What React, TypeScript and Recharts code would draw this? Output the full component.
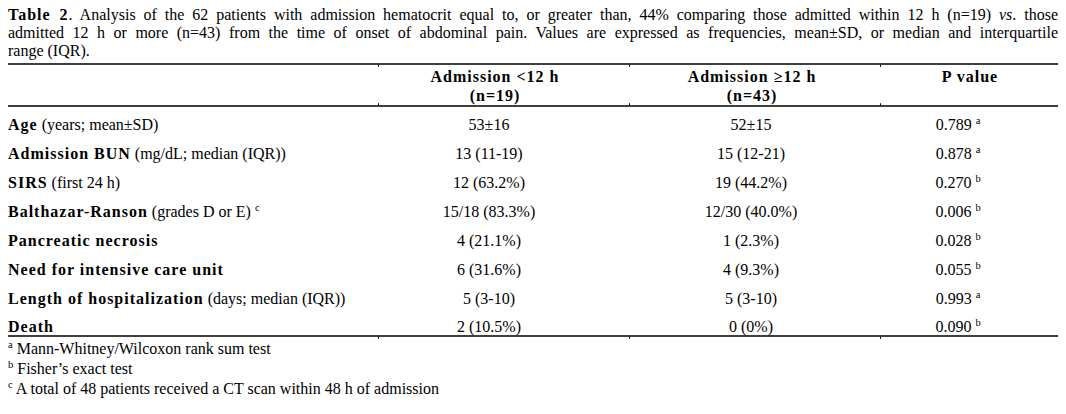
import React from "react";
import { BarChart, Bar, XAxis, YAxis, Customized } from "recharts";

// table content
const rowNames = [
  "Age",
  "Admission BUN",
  "SIRS",
  "Balthazar-Ranson",
  "Pancreatic necrosis",
  "Need for intensive care unit",
  "Length of hospitalization",
  "Death",
];
const rowNotes = [
  " (years; mean±SD)",
  " (mg/dL; median (IQR))",
  " (first 24 h)",
  " (grades D or E)",
  "",
  "",
  " (days; median (IQR))",
  "",
];
const rowMarks = ["", "", "", "c", "", "", "", ""];
const earlyValues = ["53±16", "13 (11-19)", "12 (63.2%)", "15/18 (83.3%)", "4 (21.1%)", "6 (31.6%)", "5 (3-10)", "2 (10.5%)"];
const lateValues = ["52±15", "15 (12-21)", "19 (44.2%)", "12/30 (40.0%)", "1 (2.3%)", "4 (9.3%)", "5 (3-10)", "0 (0%)"];
const pValues = ["0.789", "0.878", "0.270", "0.006", "0.028", "0.055", "0.993", "0.090"];
const pTests = ["a", "a", "b", "b", "b", "b", "a", "b"];
const columnHeads = [
  ["Admission <12 h", "(n=19)"],
  ["Admission ≥12 h", "(n=43)"],
  ["P value"],
];
const footMarks = ["a", "b", "c"];
const footTexts = [
  "Mann-Whitney/Wilcoxon rank sum test",
  "Fisher’s exact test",
  "A total of 48 patients received a CT scan within 48 h of admission",
];

const FONT = '"Liberation Serif", "Times New Roman", serif';
const W = 1050;
const H = 406;
const BOLD_SPACING = 1;
// column centres (svg px) and boundaries for the little border ticks
const colX = [481, 743, 950];
const headX = [487, 744, 962];
const colEdges = [370, 621, 872];
const rules = { top: 56, head: 98, bottom: 328 };

const rows = rowNames.map((name, i) => ({
  name,
  note: rowNotes[i],
  mark: rowMarks[i],
  early: earlyValues[i],
  late: lateValues[i],
  p: pValues[i],
  test: pTests[i],
  zero: 0,
}));

function Sup({ children }: { children: string }) {
  return (
    <tspan fontSize={10.5} dy={-6}>
      {children}
    </tspan>
  );
}

function RowTick(props: any) {
  const { y, payload } = props;
  const row = rows.find((r) => r.name === payload.value);
  if (!row) return null;
  return (
    <g fontFamily={FONT} fontSize={16} fill="#000">
      <text x={0} y={y} dy="0.34em">
        <tspan fontWeight="bold" letterSpacing={BOLD_SPACING}>
          {row.name}
        </tspan>
        <tspan>{row.note}</tspan>
        {row.mark ? (
          <>
            <tspan> </tspan>
            <Sup>{row.mark}</Sup>
          </>
        ) : null}
      </text>
      <text x={colX[0]} y={y} dy="0.34em" textAnchor="middle">
        {row.early}
      </text>
      <text x={colX[1]} y={y} dy="0.34em" textAnchor="middle">
        {row.late}
      </text>
      <text x={colX[2]} y={y} dy="0.34em" textAnchor="middle">
        {row.p + " "}
        <Sup>{row.test}</Sup>
      </text>
    </g>
  );
}

function Frame() {
  const rule = (y: number, tickDir: number) => (
    <g key={y}>
      <rect x={0} y={y - 0.75} width={W} height={1.5} fill="#000" />
      {colEdges.map((x) => (
        <rect key={x} x={x} y={tickDir > 0 ? y + 0.75 : y - 2.75} width={1} height={2} fill="#000" />
      ))}
    </g>
  );
  return (
    <g fontFamily={FONT} fontSize={16} fill="#000">
      {rule(rules.top, 1)}
      {rule(rules.head, -1)}
      {rule(rules.bottom, 1)}
      {columnHeads.map((lines, c) =>
        lines.map((line, k) => (
          <text
            key={c + "-" + k}
            x={headX[c]}
            y={69 + k * 19}
            dy="0.34em"
            textAnchor="middle"
            fontWeight="bold"
            letterSpacing={BOLD_SPACING}
          >
            {line}
          </text>
        ))
      )}
      {footTexts.map((t, i) => {
        const base = 345.5 + i * 20;
        return (
          <text key={i} x={0} y={base}>
            <tspan fontSize={10.5} y={base - 6}>
              {footMarks[i]}
            </tspan>
            <tspan y={base}> {t}</tspan>
          </text>
        );
      })}
    </g>
  );
}

const lineStyle: React.CSSProperties = {
  textAlign: "justify",
  textAlignLast: "justify",
  whiteSpace: "nowrap",
};

export default function App() {
  return (
    <div style={{ position: "relative", width: W, height: H, fontFamily: FONT, color: "#000" }}>
      <div
        style={{
          position: "absolute",
          left: 0,
          top: -2,
          width: W,
          fontSize: 16,
          lineHeight: "18px",
          zIndex: 1,
        }}
      >
        <div style={lineStyle}>
          <b style={{ letterSpacing: BOLD_SPACING }}>Table 2</b>. Analysis of the 62 patients with admission hematocrit
          equal to, or greater than, 44% comparing those admitted within 12 h (n=19) <i>vs</i>. those
        </div>
        <div style={lineStyle}>
          admitted 12 h or more (n=43) from the time of onset of abdominal pain. Values are expressed as frequencies,
          mean±SD, or median and interquartile
        </div>
        <div>range (IQR).</div>
      </div>
      <BarChart
        width={W}
        height={H}
        data={rows}
        layout="vertical"
        margin={{ top: 102.6, bottom: 72.6, left: 0, right: 0 }}
      >
        <XAxis type="number" hide domain={[0, 1]} />
        <YAxis
          type="category"
          dataKey="name"
          width={1040}
          axisLine={false}
          tickLine={false}
          tick={<RowTick />}
        />
        <Bar dataKey="zero" fill="none" isAnimationActive={false} />
        <Customized component={<Frame />} />
      </BarChart>
    </div>
  );
}
